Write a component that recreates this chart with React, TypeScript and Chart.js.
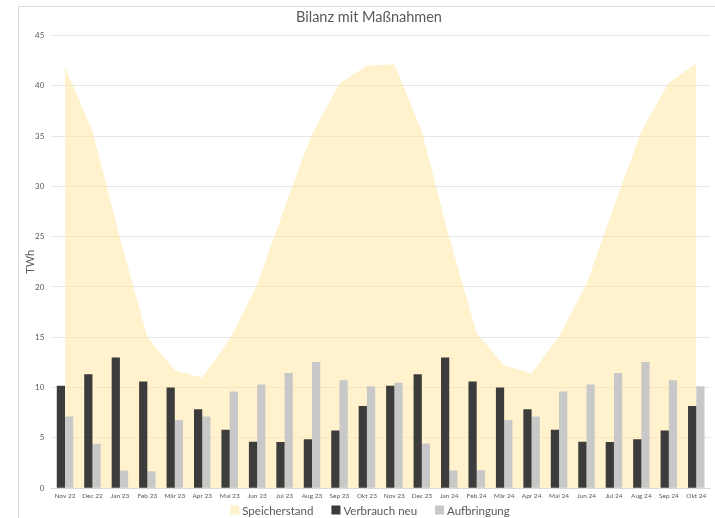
import React, { useEffect, useRef } from "react";
import { Chart, registerables } from "chart.js";

Chart.register(...registerables);

const categories = [
  "Nov 22", "Dec 22", "Jan 23", "Feb 23", "Mär 23", "Apr 23", "Mai 23", "Jun 23",
  "Jul 23", "Aug 23", "Sep 23", "Okt 23", "Nov 23", "Dec 23", "Jan 24", "Feb 24",
  "Mär 24", "Apr 24", "Mai 24", "Jun 24", "Jul 24", "Aug 24", "Sep 24", "Okt 24",
];

const speicherstand = [
  41.8, 35.5, 24.9, 15.0, 11.7, 11.0, 14.8, 20.2, 27.9, 35.2, 40.2, 42.0,
  42.1, 35.5, 24.9, 15.4, 12.2, 11.4, 15.1, 20.3, 28.0, 35.5, 40.3, 42.2,
];

const verbrauchNeu = [
  10.17, 11.32, 12.98, 10.6, 10.0, 7.85, 5.8, 4.61, 4.58, 4.87, 5.73, 8.18,
  10.17, 11.32, 12.98, 10.6, 10.0, 7.85, 5.8, 4.61, 4.58, 4.87, 5.73, 8.18,
];

const aufbringung = [
  7.12, 4.41, 1.76, 1.69, 6.79, 7.12, 9.6, 10.3, 11.46, 12.55, 10.73, 10.13,
  10.47, 4.43, 1.76, 1.79, 6.79, 7.12, 9.6, 10.3, 11.46, 12.55, 10.73, 10.13,
];

const yTicks = { min: 0, max: 45, step: 5 };
const yTitle = "TWh";

const FONT = "Lato, 'Open Sans', sans-serif";
const TEXT = "#595959";
const LEGEND_SWATCH = ["#fff2cc", "#3c3c3c", "#c8c8c8"];

export default function App() {
  const ref = useRef<HTMLCanvasElement | null>(null);

  useEffect(() => {
    document.body.style.margin = "0";
    const canvas = ref.current;
    if (!canvas) return;

    const frame = {
      id: "frame",
      beforeDraw(chart: any) {
        const ctx = chart.ctx;
        ctx.save();
        ctx.fillStyle = "#ffffff";
        ctx.fillRect(0, 0, chart.width, chart.height);
        ctx.strokeStyle = "#d9d9d9";
        ctx.lineWidth = 1;
        ctx.beginPath();
        ctx.moveTo(18.5, chart.height);
        ctx.lineTo(18.5, 6.5);
        ctx.lineTo(chart.width, 6.5);
        ctx.stroke();
        ctx.restore();
      },
    };

    const extras = {
      id: "extras",
      afterDraw(chart: any) {
        const ctx = chart.ctx;
        const area = chart.chartArea;
        ctx.save();
        ctx.font = `11px ${FONT}`;
        ctx.fillStyle = TEXT;
        ctx.textAlign = "center";
        ctx.textBaseline = "middle";
        ctx.translate(30, (area.top + area.bottom) / 2);
        ctx.rotate(-Math.PI / 2);
        ctx.fillText(yTitle, 0, 0);
        ctx.restore();

        ctx.save();
        ctx.font = `11.5px ${FONT}`;
        ctx.textBaseline = "middle";
        const box = 9;
        const gapText = 3;
        const gapItem = 18;
        const items = chart.data.datasets.map((d: any, i: number) => ({
          label: d.label as string,
          color: LEGEND_SWATCH[i],
          w: box + gapText + ctx.measureText(d.label).width,
        }));
        const total = items.reduce((s: number, it: any) => s + it.w, 0) + gapItem * (items.length - 1);
        let x = 370 - total / 2;
        const y = 510;
        for (const it of items) {
          ctx.fillStyle = it.color;
          ctx.fillRect(x, y - box / 2, box, box);
          ctx.fillStyle = TEXT;
          ctx.fillText(it.label, x + box + gapText, y + 1);
          x += it.w + gapItem;
        }
        ctx.restore();
      },
    };

    const chart = new Chart(canvas, {
      type: "bar",
      data: {
        labels: categories,
        datasets: [
          {
            type: "line",
            label: "Speicherstand",
            data: speicherstand,
            fill: "origin",
            backgroundColor: "rgba(255, 229, 153, 0.5)",
            borderWidth: 0,
            borderColor: "rgba(0,0,0,0)",
            pointRadius: 0,
            tension: 0,
            order: 2,
          } as any,
          {
            type: "bar",
            label: "Verbrauch neu",
            data: verbrauchNeu,
            backgroundColor: "#3c3c3c",
            categoryPercentage: 0.6,
            barPercentage: 1.0,
            order: 1,
          },
          {
            type: "bar",
            label: "Aufbringung",
            data: aufbringung,
            backgroundColor: "#c8c8c8",
            categoryPercentage: 0.6,
            barPercentage: 1.0,
            order: 1,
          },
        ],
      },
      options: {
        animation: false,
        responsive: true,
        maintainAspectRatio: false,
        layout: { padding: { left: 28, right: 5, top: 4, bottom: 14 } },
        plugins: {
          title: {
            display: true,
            text: "Bilanz mit Maßnahmen",
            color: TEXT,
            font: { family: FONT, size: 14.5, weight: "normal" },
            padding: { top: 5, bottom: 9 },
          },
          legend: { display: false },
          tooltip: { enabled: false },
        },
        scales: {
          x: {
            grid: { display: false, drawTicks: false },
            border: { display: true, color: "#d9d9d9" },
            ticks: {
              color: TEXT,
              font: { family: FONT, size: 6.5 },
              maxRotation: 0,
              autoSkip: false,
              padding: 4,
            },
          },
          y: {
            min: yTicks.min,
            max: yTicks.max,
            ticks: {
              stepSize: yTicks.step,
              color: TEXT,
              font: { family: FONT, size: 8 },
              padding: 7,
            },
            grid: { color: "#e6e6e6", drawTicks: false },
            border: { display: false },
            title: { display: false },
          },
        },
      },
      plugins: [frame, extras],
    });

    return () => chart.destroy();
  }, []);

  return (
    <div style={{ width: 715, height: 518, position: "relative" }}>
      <canvas ref={ref} />
    </div>
  );
}
